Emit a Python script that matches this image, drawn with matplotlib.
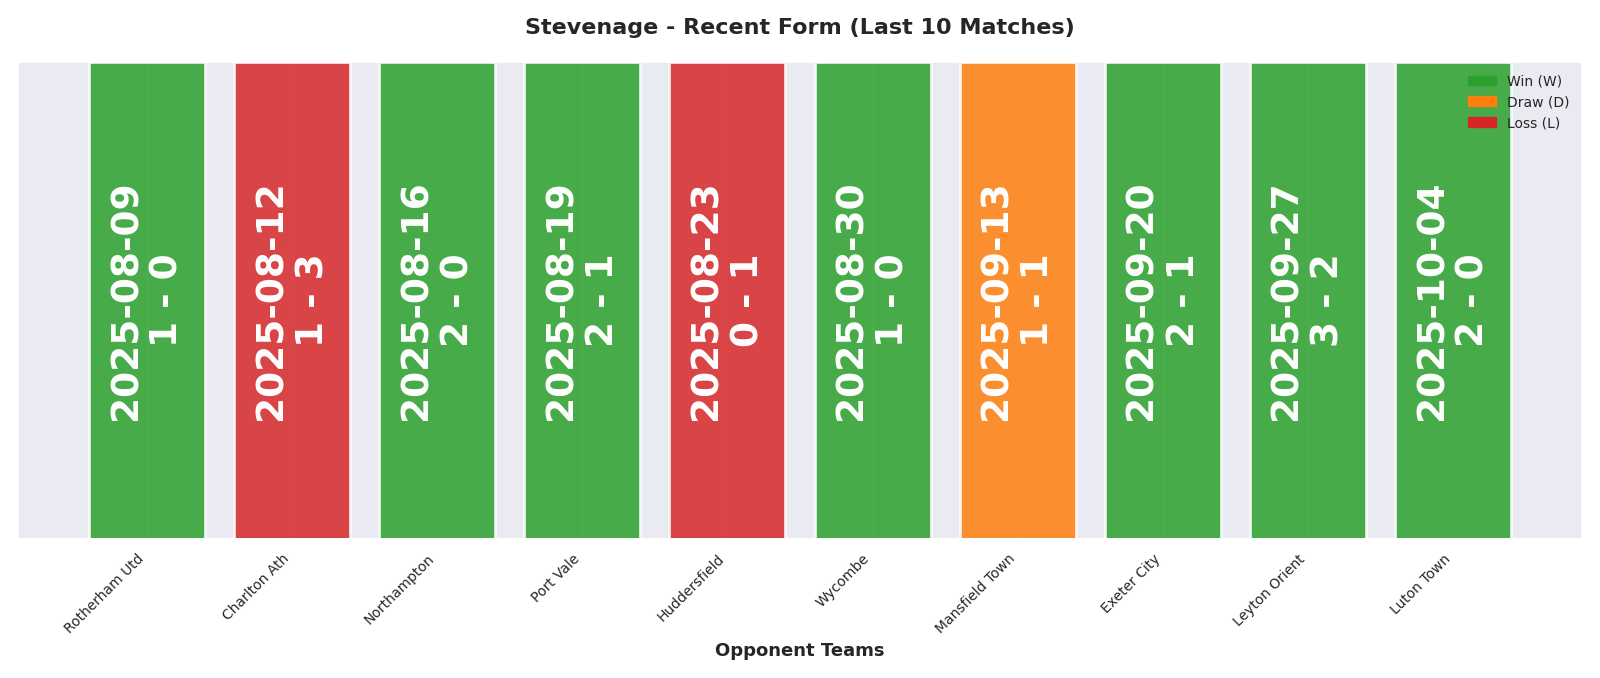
import matplotlib
matplotlib.use("Agg")
import matplotlib.pyplot as plt
import seaborn as sns
from matplotlib.patches import Patch

sns.set_theme(style="darkgrid")

opponents = ["Rotherham Utd", "Charlton Ath", "Northampton", "Port Vale", "Huddersfield",
             "Wycombe", "Mansfield Town", "Exeter City", "Leyton Orient", "Luton Town"]
dates = ["2025-08-09", "2025-08-12", "2025-08-16", "2025-08-19", "2025-08-23",
         "2025-08-30", "2025-09-13", "2025-09-20", "2025-09-27", "2025-10-04"]
scores = ["1 - 0", "1 - 3", "2 - 0", "2 - 1", "0 - 1", "1 - 0", "1 - 1", "2 - 1", "3 - 2", "2 - 0"]
results = ["W", "L", "W", "W", "L", "W", "D", "W", "W", "W"]

colors = {"W": "#2ca02c", "D": "#ff7f0e", "L": "#d62728"}

fig, ax = plt.subplots(figsize=(16, 6.78), dpi=100)
x = list(range(len(opponents)))
ax.bar(x, [1] * len(x), width=0.8, color=[colors[r] for r in results],
       alpha=0.85, edgecolor="white", linewidth=2)
for i in x:
    ax.text(i, 0.5, f"{dates[i]}\n{scores[i]}", rotation=90, ha="center", va="center",
            color="white", fontsize=27, fontweight="bold")
ax.set_xticks(x)
ax.set_xticklabels(opponents, rotation=45, ha="right", fontsize=10)
ax.set_yticks([])
ax.set_ylim(0, 1)
ax.set_xlabel("Opponent Teams", fontsize=13, fontweight="bold")
ax.set_title("Stevenage - Recent Form (Last 10 Matches)", fontsize=16, fontweight="bold", pad=20)
handles = [Patch(color=colors["W"], label="Win (W)"),
           Patch(color=colors["D"], label="Draw (D)"),
           Patch(color=colors["L"], label="Loss (L)")]
ax.legend(handles=handles, loc="upper right", fontsize=10, frameon=False)
plt.tight_layout()
fig.savefig("out.png", dpi=100)
